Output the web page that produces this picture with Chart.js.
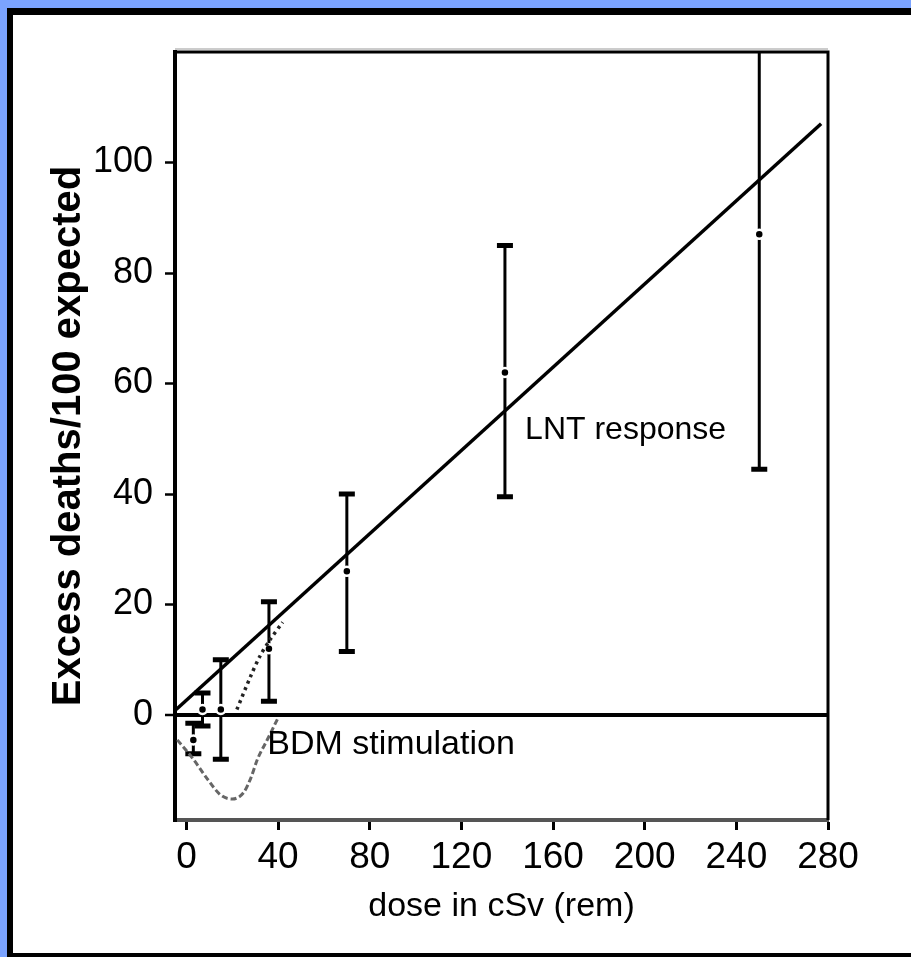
<!DOCTYPE html>
<html>
<head>
<meta charset="utf-8">
<script src="https://cdn.jsdelivr.net/npm/chart.js@4.4.1/dist/chart.umd.min.js"></script>
<style>
  html, body { margin: 0; padding: 0; }
  body { width: 911px; height: 957px; background: #7ba3ff; position: relative; overflow: hidden; }
  #frame { position: absolute; left: 7px; top: 8px; width: 904px; height: 949px; box-sizing: border-box;
           background: #fff; border-left: 6px solid #000; border-top: 7px solid #000; border-bottom: 4px solid #000; }
  #c { position: absolute; left: 0; top: 0; }
</style>
</head>
<body>
<div id="frame"></div>
<canvas id="c" width="911" height="957"></canvas>
<script>
// data
const doses = [3, 7, 15, 36, 70, 139, 250];
const means = [-4.5, 1, 1, 12, 26, 62, 87];
const lows = [-7, -2, -8, 2.5, 11.5, 39.5, 44.5];
const highs = [-1.5, 4, 10, 20.5, 40, 85, 125];

// linear (LNT) fit line
const lntDose = [-4.5, 277];
const lntValue = [1, 107];

// BDM stimulation curve (dip below zero)
const bdmDose = [-4, 3, 9, 15, 20, 25, 28, 31, 35.5, 40];
const bdmValue = [-4.5, -8, -11.5, -14.5, -15.2, -14, -11.5, -8, -4.3, -0.5];

// dotted rise joining the LNT line
const riseDose = [22, 28, 32, 36.6, 42];
const riseValue = [1, 7, 10.6, 13.7, 16.8];

const xTicks = [0, 40, 80, 120, 160, 200, 240, 280];
const yTicks = [0, 20, 40, 60, 80, 100];

function pts(xs, ys) { return xs.map((v, i) => ({x: v, y: ys[i]})); }

// error bars drawn with the chart's scales
const errorBars = {
  id: 'errorBars',
  beforeDatasetsDraw(chart) {
    const ctx = chart.ctx, x = chart.scales.x, y = chart.scales.y, a = chart.chartArea;
    ctx.save();
    ctx.beginPath();
    ctx.rect(a.left, a.top, a.right - a.left, a.bottom - a.top);
    ctx.clip();
    ctx.strokeStyle = '#000';
    doses.forEach((d, i) => {
      const px = x.getPixelForValue(d);
      const top = y.getPixelForValue(highs[i]);
      const bot = y.getPixelForValue(lows[i]);
      ctx.lineWidth = 3;
      ctx.beginPath(); ctx.moveTo(px, top); ctx.lineTo(px, bot); ctx.stroke();
      ctx.lineWidth = 5;
      ctx.beginPath();
      ctx.moveTo(px - 8, top); ctx.lineTo(px + 8, top);
      ctx.moveTo(px - 8, bot); ctx.lineTo(px + 8, bot);
      ctx.stroke();
    });
    ctx.restore();
  }
};

// top/right frame and the two text notes
const extras = {
  id: 'extras',
  afterDraw(chart) {
    const ctx = chart.ctx, x = chart.scales.x, y = chart.scales.y, a = chart.chartArea;
    ctx.save();
    ctx.strokeStyle = '#ccc'; ctx.lineWidth = 2;
    ctx.beginPath(); ctx.moveTo(a.left, a.top - 3); ctx.lineTo(a.right, a.top - 3); ctx.stroke();
    ctx.strokeStyle = '#000'; ctx.lineWidth = 3;
    ctx.beginPath();
    ctx.moveTo(a.left, a.top); ctx.lineTo(a.right, a.top); ctx.lineTo(a.right, a.bottom);
    ctx.stroke();
    ctx.fillStyle = '#000';
    ctx.textBaseline = 'middle';
    ctx.textAlign = 'left';
    ctx.font = '32px "Liberation Sans", Arial, sans-serif';
    ctx.fillText('LNT response', x.getPixelForValue(147.8), y.getPixelForValue(51.5));
    ctx.font = '34px "Liberation Sans", Arial, sans-serif';
    ctx.fillText('BDM stimulation', x.getPixelForValue(35.3), y.getPixelForValue(-5.3));
    ctx.restore();
  }
};

new Chart(document.getElementById('c'), {
  type: 'scatter',
  data: {
    datasets: [
      {type: 'line', data: pts(bdmDose, bdmValue), borderColor: '#666', borderWidth: 3,
       borderDash: [6, 3], pointRadius: 0, tension: 0.4, cubicInterpolationMode: 'monotone'},
      {type: 'line', data: pts(riseDose, riseValue), borderColor: '#222', borderWidth: 3.5,
       borderDash: [3, 4], pointRadius: 0, tension: 0.3},
      {type: 'line', data: pts(lntDose, lntValue), borderColor: '#000', borderWidth: 3.5, pointRadius: 0},
      {data: pts(doses, means), pointRadius: 4.5, pointBackgroundColor: '#000',
       pointBorderColor: '#fff', pointBorderWidth: 2.5}
    ]
  },
  options: {
    responsive: false,
    animation: false,
    devicePixelRatio: 1,
    layout: {padding: {top: 52, right: 83, left: 0, bottom: 0}},
    plugins: {legend: {display: false}, tooltip: {enabled: false}},
    scales: {
      x: {
        type: 'linear', min: -5, max: 280,
        afterBuildTicks: s => { s.ticks = xTicks.map(v => ({value: v})); },
        afterFit: s => { s.height = 137; },
        grid: {drawOnChartArea: false, tickLength: 10, tickWidth: 3, tickColor: '#000'},
        border: {display: true, color: '#555', width: 4},
        ticks: {color: '#000', padding: 6, maxRotation: 0,
                font: {family: '"Liberation Sans", Arial, sans-serif', size: 37}},
        title: {display: true, text: 'dose in cSv (rem)', color: '#000',
                padding: {top: 30, bottom: 30},
                font: {family: '"Liberation Sans", Arial, sans-serif', size: 34}}
      },
      y: {
        type: 'linear', min: -19, max: 120,
        afterBuildTicks: s => { s.ticks = yTicks.map(v => ({value: v})); },
        afterFit: s => { s.width = 175; },
        grid: {
          color: c => c.tick && c.tick.value === 0 ? '#000' : 'rgba(0,0,0,0)',
          lineWidth: c => c.tick && c.tick.value === 0 ? 4 : 1,
          tickLength: 10, tickWidth: 2.5, tickColor: '#000'
        },
        border: {display: true, color: '#000', width: 4},
        ticks: {color: '#000', padding: 12,
                font: {family: '"Liberation Sans", Arial, sans-serif', size: 36}},
        title: {display: true, text: 'Excess deaths/100 expected', color: '#000',
                padding: {top: 45, bottom: 45},
                font: {family: '"Liberation Sans", Arial, sans-serif', size: 40, weight: 'bold'}}
      }
    }
  },
  plugins: [errorBars, extras]
});
</script>
</body>
</html>
